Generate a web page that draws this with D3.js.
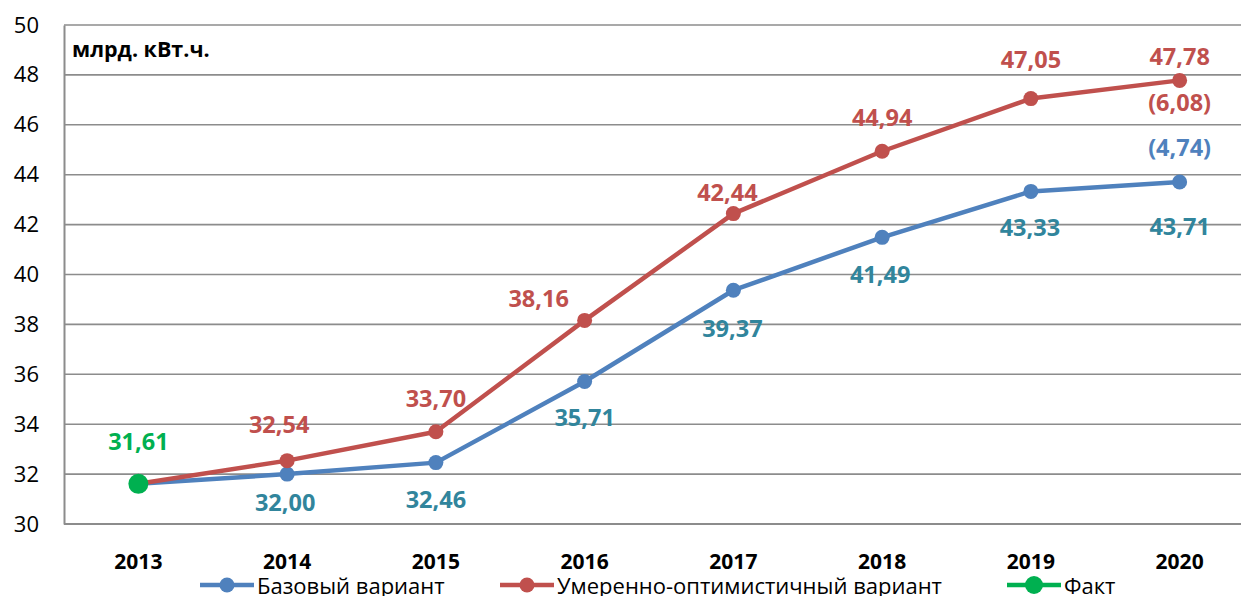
<!DOCTYPE html>
<html><head><meta charset="utf-8">
<script src="https://cdn.jsdelivr.net/npm/d3@7"></script>
<style>
html,body{margin:0;padding:0;background:#fff;overflow:hidden}
svg{display:block}
text{font-family:"Open Sans",Lato,sans-serif}
</style></head>
<body><svg id="c" width="1241" height="596"></svg>
<script>
const years = ["2013","2014","2015","2016","2017","2018","2019","2020"];
const baseValues = [31.61,32.00,32.46,35.71,39.37,41.49,43.33,43.71];
const optValues  = [31.61,32.54,33.70,38.16,42.44,44.94,47.05,47.78];
const factValues = [31.61];
const baseLabels = [null,"32,00","32,46","35,71","39,37","41,49","43,33","43,71"];
const optLabels  = [null,"32,54","33,70","38,16","42,44","44,94","47,05","47,78"];
const factLabels = ["31,61"];
const baseDeltaLabel = "(4,74)";
const optDeltaLabel = "(6,08)";
const yTicks = [30,32,34,36,38,40,42,44,46,48,50];
const seriesNames = ["Базовый вариант","Умеренно-оптимистичный вариант","Факт"];
const unitLabel = "млрд. кВт.ч.";

// label placement offsets (px)
const optOff  = [null,[-8,-37],[0,-34],[-46,-22],[-6,-22],[0,-34],[0,-40],[0,-24]];
const baseOff = [null,[-2,28],[0,36],[0,35],[-1,38],[-2,37],[-1,36],[0,44]];

const svg = d3.select("#c");
const x = d3.scaleBand().domain(years).range([64,1254]).padding(0);
const cx = d => x(d) + x.bandwidth()/2;
const y = d3.scaleLinear().domain([30,50]).range([524,25]);

const C = {blue:"#4F81BD", red:"#C0504D", green:"#00B050", teal:"#31859C", grid:"#8c8c8c"};

// gridlines
svg.append("g").selectAll("line").data(yTicks.filter(t=>t>30)).join("line")
  .attr("x1",64).attr("x2",1241).attr("y1",d=>y(d)).attr("y2",d=>y(d))
  .attr("stroke",C.grid).attr("stroke-width",1.6);

// y axis
const ya = svg.append("g").attr("transform","translate(64,0)")
  .call(d3.axisLeft(y).tickValues(yTicks).tickSize(0).tickPadding(25));
ya.select(".domain").attr("stroke",C.grid).attr("stroke-width",2);
ya.selectAll("text").attr("font-size",22).attr("fill","#000")
  .style("font-family","'Open Sans',sans-serif");

// x axis
const xa = svg.append("g").attr("transform","translate(0,524)")
  .call(d3.axisBottom(x).tickSize(0).tickPadding(30));
xa.select(".domain").attr("stroke",C.grid).attr("stroke-width",2).attr("d","M64,0H1241");
xa.selectAll("text").attr("font-size",21).attr("font-weight","bold").attr("fill","#000")
  .style("font-family","'Open Sans',sans-serif");

// unit label
svg.append("text").attr("x",72).attr("y",57).attr("font-size",21.5).attr("font-weight","bold")
  .text(unitLabel);

const line = d3.line().x((d,i)=>cx(years[i])).y(d=>y(d));

function series(vals,color,r){
  svg.append("path").attr("d",line(vals)).attr("fill","none").attr("stroke",color)
    .attr("stroke-width",4.5).attr("stroke-linejoin","round");
  svg.append("g").selectAll("circle").data(vals).join("circle")
    .attr("cx",(d,i)=>cx(years[i])).attr("cy",d=>y(d)).attr("r",r).attr("fill",color);
}
series(baseValues,C.blue,7.5);
series(optValues,C.red,7.5);
svg.append("g").selectAll("circle").data(factValues).join("circle")
  .attr("cx",(d,i)=>cx(years[i])).attr("cy",d=>y(d)).attr("r",10).attr("fill",C.green);

const LFS = 23.5;
function labels(vals,labs,offs,color){
  svg.append("g").selectAll("text").data(vals.map((v,i)=>({v,i})).filter(d=>labs[d.i])).join("text")
    .attr("x",d=>cx(years[d.i])+offs[d.i][0]).attr("y",d=>y(d.v)+offs[d.i][1])
    .attr("text-anchor","middle").attr("dominant-baseline","central")
    .attr("font-size",LFS).attr("font-weight","bold").attr("fill",color)
    .text(d=>labs[d.i]);
}
labels(optValues,optLabels,optOff,C.red);
labels(baseValues,baseLabels,baseOff,C.teal);
labels(factValues,factLabels,[[0,-43]],C.green);

const last = years.length-1;
svg.append("text").attr("x",cx(years[last])).attr("y",y(optValues[last])+22)
  .attr("text-anchor","middle").attr("dominant-baseline","central")
  .attr("font-size",LFS).attr("font-weight","bold").attr("fill",C.red).text(optDeltaLabel);
svg.append("text").attr("x",cx(years[last])).attr("y",y(baseValues[last])-35)
  .attr("text-anchor","middle").attr("dominant-baseline","central")
  .attr("font-size",LFS).attr("font-weight","bold").attr("fill",C.blue).text(baseDeltaLabel);

// legend
const legX = [200,500,1007];
const legColors = [C.blue,C.red,C.green];
const lg = svg.append("g").selectAll("g").data(seriesNames).join("g")
  .attr("transform",(d,i)=>`translate(${legX[i]},585)`);
lg.append("line").attr("x1",0).attr("x2",54).attr("stroke",(d,i)=>legColors[i]).attr("stroke-width",4.5);
lg.append("circle").attr("cx",27).attr("r",(d,i)=>i===2?9:7.5).attr("fill",(d,i)=>legColors[i]);
lg.append("text").attr("x",57).attr("y",0).attr("dominant-baseline","central")
  .attr("font-size",22).attr("fill","#000").text(d=>d);
</script></body></html>
